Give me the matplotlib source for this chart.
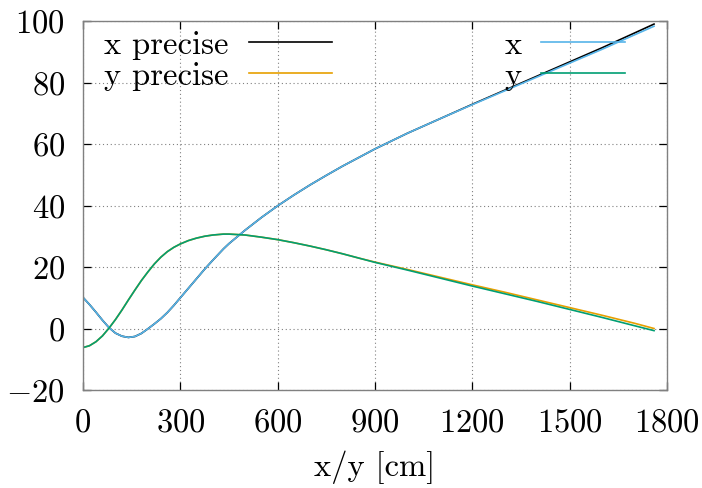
import matplotlib
matplotlib.use('Agg')
import matplotlib.pyplot as plt

# gnuplot-ish look with Computer Modern text
plt.rcParams['font.family'] = 'serif'
plt.rcParams['font.serif'] = ['cmr10']
plt.rcParams['mathtext.fontset'] = 'cm'
plt.rcParams['axes.formatter.use_mathtext'] = True

# curve samples (position in cm)
pos = [0, 20, 40, 60, 80, 100, 120, 140, 160, 180, 200, 220, 240, 260, 280, 300,
       325, 350, 375, 400, 433, 450, 500, 550, 600, 650, 700, 750, 800, 850, 900,
       1000, 1100, 1200, 1300, 1400, 1500, 1600, 1700, 1760]

x_est = [10.1, 7.8, 5.3, 2.7, 0.3, -1.5, -2.5, -2.9, -2.6, -1.6, -0.1, 1.5, 3.2, 5.2,
         7.5, 10.0, 13.1, 16.2, 19.3, 22.2, 25.9, 27.6, 32.0, 36.1, 39.9, 43.4, 46.7,
         49.8, 52.8, 55.6, 58.4, 63.5, 68.2, 72.8, 77.3, 81.8, 86.3, 90.8, 95.5, 98.3]
x_precise = [10.1, 7.8, 5.3, 2.7, 0.3, -1.5, -2.5, -2.9, -2.6, -1.6, -0.1, 1.5, 3.2, 5.2,
             7.5, 10.0, 13.1, 16.2, 19.3, 22.2, 25.9, 27.6, 32.0, 36.1, 39.9, 43.4, 46.7,
             49.8, 52.8, 55.6, 58.4, 63.5, 68.2, 72.9, 77.5, 82.1, 86.7, 91.3, 96.1, 99.0]

y_est = [-6.2, -5.6, -4.3, -2.4, 0.1, 2.9, 6.0, 9.3, 12.5, 15.6, 18.4, 21.0, 23.2, 25.0,
         26.4, 27.5, 28.6, 29.4, 30.0, 30.4, 30.7, 30.7, 30.4, 29.7, 28.9, 27.9, 26.8,
         25.6, 24.3, 22.9, 21.5, 19.0, 16.4, 13.8, 11.3, 8.8, 6.2, 3.6, 0.9, -0.7]
y_precise = [-6.2, -5.6, -4.3, -2.4, 0.1, 2.9, 6.0, 9.3, 12.5, 15.6, 18.4, 21.0, 23.2, 25.0,
             26.4, 27.5, 28.6, 29.4, 30.0, 30.4, 30.7, 30.7, 30.4, 29.7, 28.9, 27.9, 26.8,
             25.6, 24.3, 22.9, 21.6, 19.2, 16.7, 14.2, 11.8, 9.3, 6.8, 4.3, 1.7, 0.0]

xticks = [0, 300, 600, 900, 1200, 1500, 1800]
yticks = [-20, 0, 20, 40, 60, 80, 100]

fig = plt.figure(figsize=(7.02, 4.88), dpi=100)
ax = fig.add_axes([83/702, 1 - 390/488, 584/702, 369/488])

lw = 1.2
ax.plot(pos, x_precise, color='black', lw=lw, label='x precise')
ax.plot(pos, y_precise, color='#E69F00', lw=lw, label='y precise')
ax.plot(pos, x_est, color='#56B4E9', lw=lw, label='x')
ax.plot(pos, y_est, color='#009E73', lw=lw, label='y')

ax.set_xlim(0, 1800)
ax.set_ylim(-20, 100)
ax.set_xticks(xticks)
ax.set_yticks(yticks)
ax.grid(True, color='#808080', linestyle=(0, (1, 2.5)), lw=0.8)
ax.set_axisbelow(True)
for s in ax.spines.values():
    s.set_color('#808080')
    s.set_linewidth(1.0)
ax.tick_params(direction='in', top=True, right=True, length=5.5, width=0.9,
               color='black', labelsize=23.5)
ax.tick_params(axis='x', pad=13)
ax.tick_params(axis='y', pad=13)

ax.set_xlabel('x/y [cm]', fontsize=23.5, labelpad=10)

ax.legend(loc='upper left', bbox_to_anchor=(0.02, 1.0), ncol=2, frameon=False,
          markerfirst=False, fontsize=23.5, handlelength=2.55, handletextpad=0.6,
          columnspacing=5.3, labelspacing=0.06, borderaxespad=0.1, borderpad=0.2)

fig.savefig('out.png', dpi=100)
